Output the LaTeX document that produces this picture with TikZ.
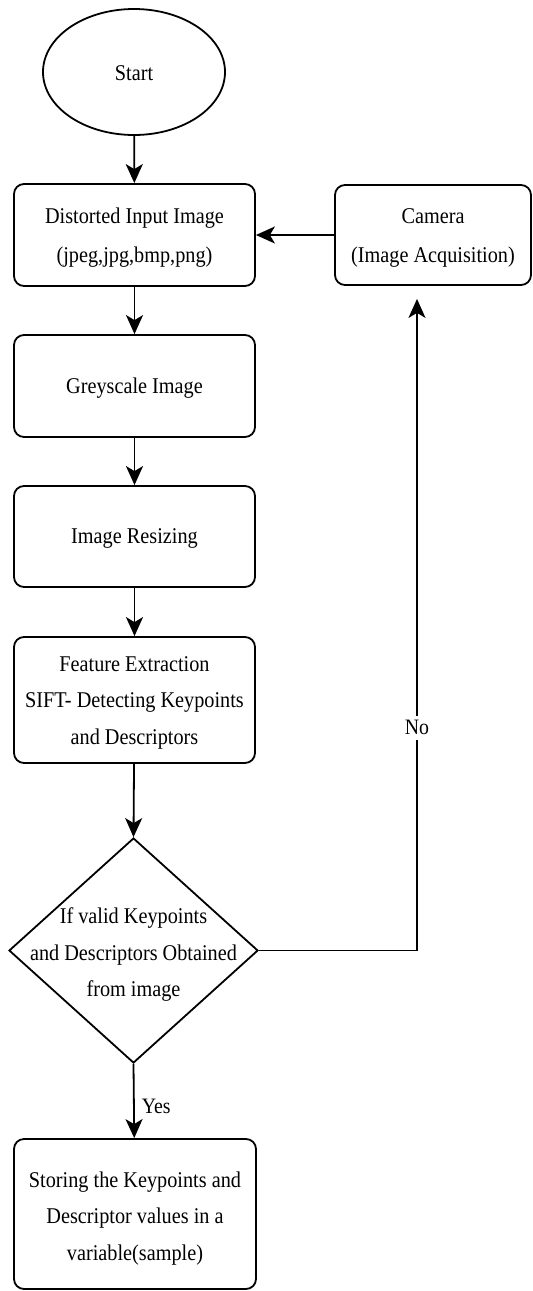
\documentclass[tikz,border=0pt]{standalone}
\usepackage{fontspec}
\setmainfont{LiberationSerif}[Extension=.ttf, UprightFont=*-Regular, BoldFont=*-Bold, FakeStretch=0.9]
\usetikzlibrary{arrows.meta,shapes.geometric}
\begin{document}
\begin{tikzpicture}[x=1pt,y=-1pt,
  txt/.style={font=\fontsize{22.5}{36.5}\selectfont, align=center, inner sep=0pt},
  txtw/.style={font=\fontsize{22.5}{39}\selectfont, align=center, inner sep=0pt},
  box/.style={draw, line width=1.8pt, rounded corners=10pt, inner sep=0pt,
    minimum width=241pt},
  arr/.style={line width=1.8pt, -{Stealth[length=19pt, width=17pt, inset=5pt]}},
  link/.style={line width=1.8pt},
  lbl/.style={font=\fontsize{22}{26}\selectfont, inner sep=0pt}]
\useasboundingbox (0,0) rectangle (533,1291);

% shapes
\node[draw, ellipse, line width=1.8pt, minimum width=182pt, minimum height=126pt,
  inner sep=0pt] (start) at (134,72) {};
\node[box, minimum height=102pt] (dist) at (134.5,235) {};
\node[box, minimum width=196pt, minimum height=100pt] (cam) at (433,235) {};
\node[box, minimum height=102pt] (grey) at (134.5,386) {};
\node[box, minimum height=101pt] (resize) at (134.5,536.5) {};
\node[box, minimum height=126pt] (feat) at (134.5,700) {};
\node[draw, diamond, line width=1.8pt, minimum width=249pt, minimum height=225pt,
  inner sep=0pt] (dia) at (133.5,950.5) {};
\node[box, minimum width=242pt, minimum height=150pt] (store) at (135,1214) {};

% texts
\node[txt] (startt) at ([yshift=-1pt]start.center) {Start};
\node[txtw] (distt) at ([yshift=-3pt]dist.center) {Distorted Input Image\\(jpeg,jpg,bmp,png)};
\node[txtw] (camt) at ([yshift=-3pt]cam.center) {Camera\\(Image Acquisition)};
\node[txt] (greyt) at ([yshift=-2pt]grey.center) {Greyscale Image};
\node[txt] (resizet) at ([yshift=-2pt]resize.center) {Image Resizing};
\node[txt] (featt) at ([yshift=-2.5pt]feat.center) {Feature Extraction\\SIFT- Detecting Keypoints\\and Descriptors};
\node[txt] (diat) at ([yshift=-4pt]dia.center) {If valid Keypoints\\and Descriptors Obtained\\from image};
\node[txt] (storet) at ([yshift=-4.5pt]store.center) {Storing the Keypoints and\\Descriptor values in a\\variable(sample)};

\coordinate (nc) at (417,950.5);

% connectors
\draw[arr] (start) -- (dist);
\draw[arr] (cam) -- (dist);
\draw[arr] (dist) -- (grey);
\draw[arr] (grey) -- (resize);
\draw[arr] (resize) -- (feat);
\draw[arr] (feat) -- (dia.north);
\draw[arr] (dia.south) -- (store) node[lbl, pos=0.5, anchor=west, xshift=7pt, yshift=-5pt] (yes) {Yes};
\draw[link] (dia.east) -- (nc);
\draw[arr, shorten >=13pt] (nc) -- (nc |- cam.south) node[lbl, pos=0.335, fill=white, inner sep=5pt] (no) {No};
\end{tikzpicture}
\end{document}
